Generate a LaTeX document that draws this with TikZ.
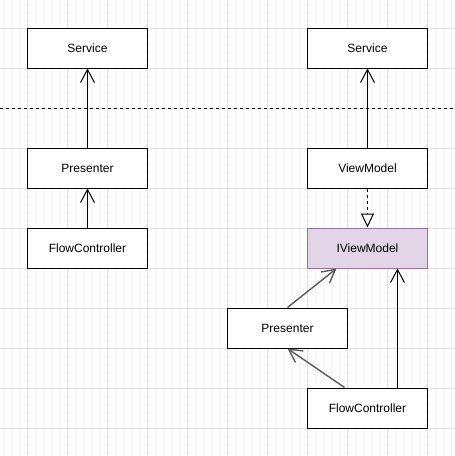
\documentclass[tikz,border=0pt]{standalone}
\usepackage{fontspec}
\setmainfont{Liberation Sans}
\usetikzlibrary{arrows.meta,calc}
\definecolor{minorgrid}{HTML}{F6F6F6}
\definecolor{majorgrid}{HTML}{E0E0E0}
\definecolor{ivmfill}{HTML}{E1D5E7}
\definecolor{ivmdraw}{HTML}{9673A6}
\definecolor{edgegray}{HTML}{5A5A5A}
\tikzset{
  box/.style={draw=black, fill=white, line width=1pt, minimum width=120pt, minimum height=40pt, inner sep=0pt, font=\fontsize{12}{14}\selectfont},
  ibox/.style={box, draw=ivmdraw, fill=ivmfill},
  assoc/.style={line width=1pt, -{Straight Barb[length=13pt,width=14pt,line width=1pt]}},
  grayassoc/.style={edgegray, line width=1.4pt, -{Straight Barb[length=13pt,width=14pt,line width=1.4pt]}},
  realize/.style={line width=1pt, dash pattern=on 3pt off 3pt, -{Triangle[open,length=14pt,width=13pt,line width=1pt]}},
}
\begin{document}
\begin{tikzpicture}[x=1pt,y=-1pt]
\useasboundingbox (0,0) rectangle (455,456);
\fill[white] (0,0) rectangle (455,456);
% grid
\foreach \i in {0,...,56} {
  \draw[minorgrid, line width=0.8pt] (3.5+8*\i,0) -- (3.5+8*\i,456);
  \draw[minorgrid, line width=0.8pt] (0,4+8*\i) -- (455,4+8*\i);
}
\foreach \i in {0,...,11} {
  \draw[majorgrid, line width=0.8pt] (27.5+40*\i,0) -- (27.5+40*\i,456);
  \draw[majorgrid, line width=0.8pt] (0,28+40*\i) -- (455,28+40*\i);
}
% separator
\coordinate (sepL) at (0,108);
\coordinate (sepR) at (455,108);
\draw[line width=1pt, dash pattern=on 3pt off 3pt] (sepL) -- (sepR);
% left side
\node[box] (lsvc) at (87.5,48) {Service};
\node[box] (lpres) at (87.5,168) {Presenter};
\node[box] (lflow) at (87.5,248) {FlowController};
\draw[assoc] (lpres.north) -- (lsvc.south);
\draw[assoc] (lflow.north) -- (lpres.south);
% right side
\node[box] (rsvc) at (367.5,48) {Service};
\node[box] (vm) at (367.5,168) {ViewModel};
\node[ibox] (ivm) at (367.5,248) {IViewModel};
\node[box] (rpres) at (287.5,328) {Presenter};
\node[box] (rflow) at (367.5,408) {FlowController};
\draw[assoc] (vm.north) -- (rsvc.south);
\draw[realize] (vm.south) -- (ivm.north);
\draw[grayassoc] (rpres.north) -- ($(ivm.south)+(-31,0)$);
\draw[grayassoc] ($(rflow.north)+(-23,0)$) -- (rpres.south);
\draw[assoc] ($(rflow.north)+(30,0)$) -- ($(ivm.south)+(30,0)$);
\end{tikzpicture}
\end{document}
